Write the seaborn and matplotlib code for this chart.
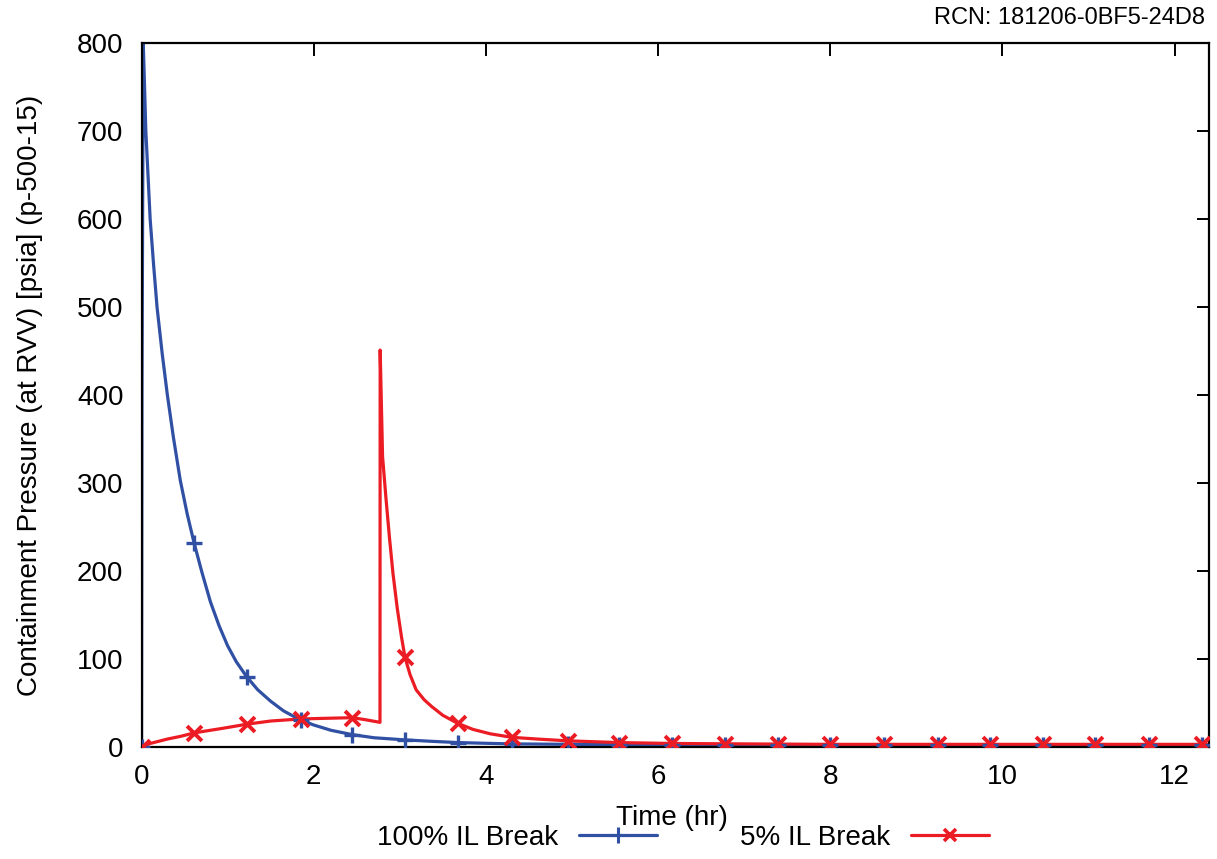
import numpy as np
import pandas as pd
import matplotlib
matplotlib.use("Agg")
import matplotlib.pyplot as plt
from matplotlib.lines import Line2D
import seaborn as sns

# ---- data ----
blue_t = [0, 0.005, 0.02, 0.05, 0.1, 0.14, 0.18, 0.24, 0.3, 0.37, 0.45, 0.53, 0.61, 0.7,
          0.8, 0.9, 1.0, 1.1, 1.22, 1.35, 1.5, 1.65, 1.84, 2.0, 2.2, 2.45, 2.7, 3.07,
          3.4, 3.68, 4.0, 4.3, 5.0, 6.0, 8.0, 10.0, 12.4]
blue_p = [0, 400, 800, 700, 600, 548, 500, 447, 400, 352, 303, 265, 232, 199,
          165, 138, 115, 97, 80, 65, 52, 41, 31, 25, 19, 14, 10.5, 8,
          6.3, 5, 4.2, 3.5, 3, 2.5, 2, 2, 2]
red_t = [0, 0.1, 0.3, 0.45, 0.61, 0.8, 0.93, 1.05, 1.23, 1.5, 1.84, 2.1, 2.45, 2.6, 2.77,
         2.772, 2.80, 2.84, 2.88, 2.92, 2.97, 3.02, 3.06, 3.12, 3.19, 3.28, 3.37, 3.5,
         3.67, 3.85, 4.05, 4.3, 4.6, 4.95, 5.25, 5.55, 6.16, 7.0, 8.0, 12.4]
red_p = [0, 4, 9, 12, 16, 19, 21, 23, 26, 29.5, 31.8, 32.5, 33.3, 31, 28,
         451, 330, 282, 238, 198, 158, 125, 102, 82, 65, 54, 46, 36,
         27, 20, 15, 11, 9, 7, 6, 5, 4, 3.5, 3, 3]
mark_t = [0, 0.61, 1.23, 1.85, 2.45, 3.06, 3.68, 4.3, 4.95, 5.55, 6.16, 6.78, 7.39,
          8.0, 8.63, 9.25, 9.86, 10.47, 11.08, 11.7, 12.32]
blue_mark_p = [0, 232, 80, 31, 14, 8, 5, 3.5, 3, 2.5, 2.5, 2, 2, 2, 2, 2, 2, 2, 2, 2, 2]
red_mark_p = [0, 16, 26, 31.8, 33.3, 102, 27, 11, 7, 5, 4, 3.5, 3, 3, 3, 3, 3, 3, 3, 3, 3]
series_names = ["100% IL Break", "5% IL Break"]
x_ticks = [0, 2, 4, 6, 8, 10, 12]
y_ticks = [0, 100, 200, 300, 400, 500, 600, 700, 800]

BLUE = "#3050a4"
RED = "#ec1c24"

sns.set_theme(style="white")
plt.rcParams['font.family'] = ['Liberation Sans', 'DejaVu Sans']
plt.rcParams['text.color'] = 'black'
plt.rcParams['axes.labelcolor'] = 'black'

fig = plt.figure(figsize=(12.17, 8.59), dpi=100)
ax = fig.add_axes([0.1163, 0.1304, 0.8771, 0.8196])

sns.lineplot(x=blue_t, y=blue_p, sort=False, estimator=None, color=BLUE, lw=2.3, ax=ax)
sns.lineplot(x=red_t, y=red_p, sort=False, estimator=None, color=RED, lw=2.3, ax=ax)
sns.scatterplot(x=mark_t, y=blue_mark_p, marker="+", s=120, color=BLUE, linewidth=2.4, ax=ax, zorder=3)
sns.scatterplot(x=mark_t, y=red_mark_p, marker="x", s=115, color=RED, linewidth=2.8, ax=ax, zorder=4)

ax.set_xlim(0, 12.4)
ax.set_ylim(0, 800)
ax.set_xticks(x_ticks)
ax.set_yticks(y_ticks)
ax.tick_params(axis='both', which='both', direction='in', length=9, width=1.4,
               top=True, right=True, labelsize=20, colors='black')
ax.tick_params(axis='x', pad=12)
ax.tick_params(axis='y', pad=13)
for s in ax.spines.values():
    s.set_color('black')
    s.set_linewidth(1.6)
ax.set_xlabel("Time (hr)", fontsize=20)
ax.set_ylabel("Containment Pressure (at RVV) [psia] (p-500-15)", fontsize=20)
ax.xaxis.set_label_coords(0.497, -0.083)
ax.yaxis.set_label_coords(-0.092, 0.5)

fig.text(0.990, 0.979, "RCN: 181206-0BF5-24D8", ha='right', va='center', fontsize=17)

handles = [Line2D([0], [0], color=BLUE, lw=2.3, marker="+", markersize=11, markeredgewidth=2.2),
           Line2D([0], [0], color=RED, lw=2.3, marker="x", markersize=9, markeredgewidth=2.6)]
fig.legend(handles, series_names, loc='center', bbox_to_anchor=(0.561, 0.0244), ncol=2,
           frameon=False, markerfirst=False, fontsize=20, handlelength=2.8,
           columnspacing=3.0, handletextpad=0.75, borderaxespad=0, borderpad=0)

fig.savefig("out.png", dpi=100)
